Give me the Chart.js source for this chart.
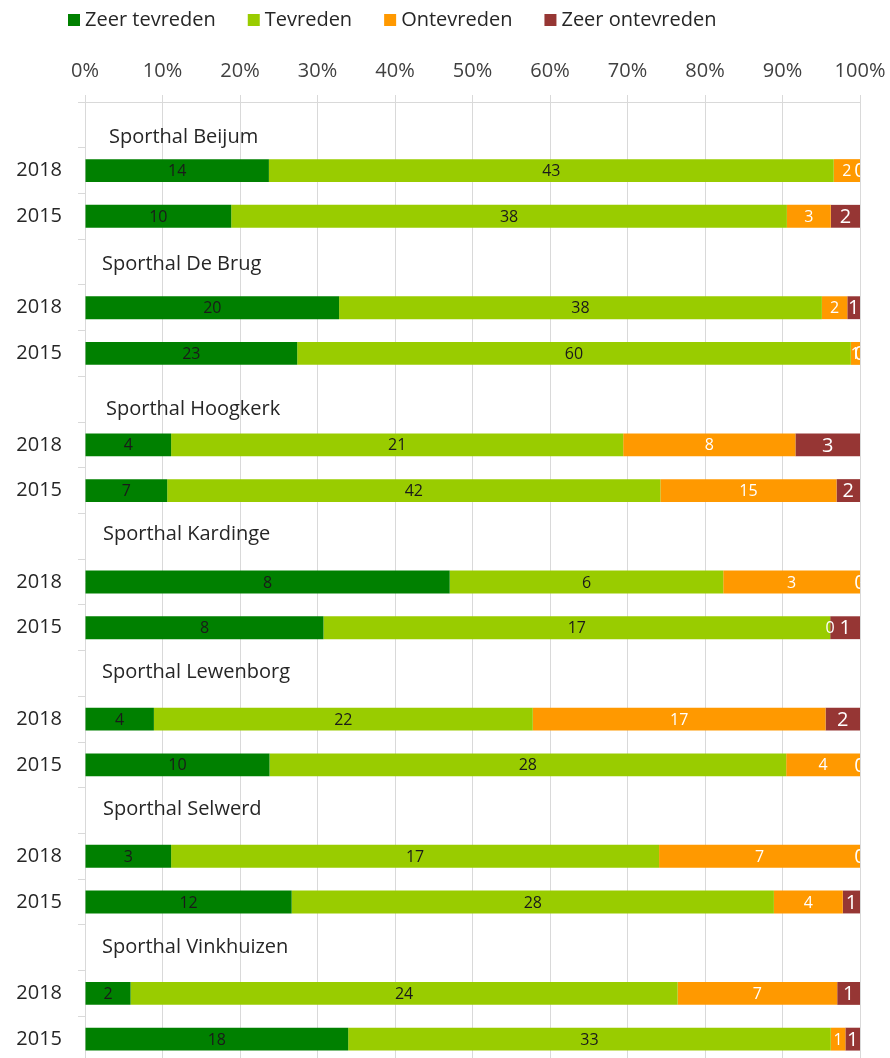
<!DOCTYPE html>
<html><head><meta charset="utf-8">
<script src="https://cdn.jsdelivr.net/npm/chart.js@4/dist/chart.umd.min.js"></script>
<style>html,body{margin:0;padding:0;overflow:hidden;background:#fff}#wrap{width:890px;height:1064px;position:relative}</style>
</head><body><div id="wrap"><canvas id="c"></canvas></div>
<script>
const halls = ['Sporthal Beijum','Sporthal De Brug','Sporthal Hoogkerk','Sporthal Kardinge','Sporthal Lewenborg','Sporthal Selwerd','Sporthal Vinkhuizen'];
const years = ['2018','2015'];
const seriesNames = ['Zeer tevreden','Tevreden','Ontevreden','Zeer ontevreden'];
// counts per hall, order: 2018, 2015
const zeerTevreden   = [14,10, 20,23, 4,7,  8,8,  4,10,  3,12,  2,18];
const tevreden       = [43,38, 38,60, 21,42, 6,17, 22,28, 17,28, 24,33];
const ontevreden     = [2,3,   2,1,   8,15,  3,0,  17,4,  7,4,   7,1];
const zeerOntevreden = [0,2,   1,0,   3,2,   0,1,  2,0,   0,1,   1,1];
const xTickValues = [0,10,20,30,40,50,60,70,80,90,100];

const FONT = "'Open Sans', 'Noto Sans', sans-serif";
const colors = ['#008000','#99CC00','#FF9900','#963634'];
const labelColors = ['#1a1a1a','#1a1a1a','#ffffff','#ffffff'];
const labelSizes = [16,16,16,20];
// small nudges of the hand-placed hall captions (layout only)
const captionNudge = [[6,10],[-1,0],[3,8],[0,-4],[-1,-3],[0,-3],[-1,-2]];

const rowLabels = [], rowIsHall = [], rowIdx = [], rowHall = [];
halls.forEach((h,i)=>{
  rowLabels.push(h); rowIsHall.push(true); rowIdx.push(-1); rowHall.push(i);
  years.forEach((y,j)=>{ rowLabels.push(y); rowIsHall.push(false); rowIdx.push(i*2+j); rowHall.push(i); });
});
const series = [zeerTevreden, tevreden, ontevreden, zeerOntevreden];
const totals = zeerTevreden.map((_,k)=>series.reduce((s,a)=>s+a[k],0));

const datasets = series.map((arr,si)=>({
  label: seriesNames[si],
  data: rowIdx.map(k=>k<0?null:arr[k]/totals[k]*100),
  counts: rowIdx.map(k=>k<0?null:arr[k]),
  backgroundColor: colors[si],
  borderWidth: 0,
  barPercentage: 0.5,
  categoryPercentage: 1.0
}));

const segLabels = {
  id:'segLabels',
  afterDatasetsDraw(chart){
    const {ctx, chartArea:a} = chart;
    ctx.save();
    ctx.beginPath(); ctx.rect(a.left, a.top, a.right-a.left, a.bottom-a.top); ctx.clip();
    ctx.textAlign='center'; ctx.textBaseline='middle';
    chart.data.datasets.forEach((ds,di)=>{
      const meta = chart.getDatasetMeta(di);
      meta.data.forEach((el,i)=>{
        const c = ds.counts[i];
        if(c==null || !el) return;
        const cx = (el.x + el.base)/2;
        ctx.fillStyle = labelColors[di];
        ctx.font = labelSizes[di] + 'px ' + FONT;
        ctx.fillText(String(c), cx, el.y + 1);
      });
    });
    const ys = chart.scales.y;
    ctx.textAlign='left';
    ctx.fillStyle='#262626';
    ctx.font = '20px ' + FONT;
    rowLabels.forEach((l,i)=>{
      if(!rowIsHall[i]) return;
      const n = captionNudge[rowHall[i]];
      ctx.fillText(l, a.left + 18 + n[0], ys.getPixelForValue(i) + 2 + n[1]);
    });
    ctx.restore();
  }
};

// legend drawn on the canvas, left-aligned like the original
const topLegend = {
  id:'topLegend',
  afterDraw(chart){
    const ctx = chart.ctx;
    ctx.save();
    ctx.font = '20px ' + FONT;
    ctx.textBaseline='middle'; ctx.textAlign='left';
    let x = 68; const y = 20;
    chart.data.datasets.forEach((ds,di)=>{
      ctx.fillStyle = ds.backgroundColor;
      ctx.fillRect(x, y-6, 12, 12);
      ctx.fillStyle = '#262626';
      ctx.fillText(ds.label, x + 17, y);
      x += 17 + ctx.measureText(ds.label).width + 32;
    });
    ctx.restore();
  }
};

new Chart(document.getElementById('c'), {
  type:'bar',
  data:{ labels: rowLabels, datasets },
  options:{
    indexAxis:'y',
    responsive:true, maintainAspectRatio:false, animation:false,
    layout:{ padding:{ top:39, left:0, right:0, bottom:2 } },
    plugins:{ legend:{ display:false }, tooltip:{ enabled:false } },
    scales:{
      x:{ position:'top', stacked:true, min:0, max:100,
        afterBuildTicks: s => { s.ticks = xTickValues.map(v=>({value:v})); },
        afterFit: s => { s.height = 63; s.paddingLeft = 0; s.paddingRight = 30; },
        ticks:{ callback: v => v + '%', color:'#404040', padding:12, font:{ size:20, family:FONT } },
        grid:{ color:'#d9d9d9', tickLength:7, lineWidth:1 },
        border:{ display:true, color:'#d9d9d9' } },
      y:{ stacked:true,
        afterFit: s => { s.width = 85; s.paddingTop = 0; s.paddingBottom = 0; },
        ticks:{ autoSkip:false, callback:(v,i)=> rowIsHall[i] ? '' : rowLabels[i], color:'#262626', padding:16, font:{ size:20, family:FONT } },
        grid:{ drawOnChartArea:false, color:'#d9d9d9', tickLength:7 },
        border:{ display:false } }
    }
  },
  plugins:[segLabels, topLegend]
});
</script></body></html>
